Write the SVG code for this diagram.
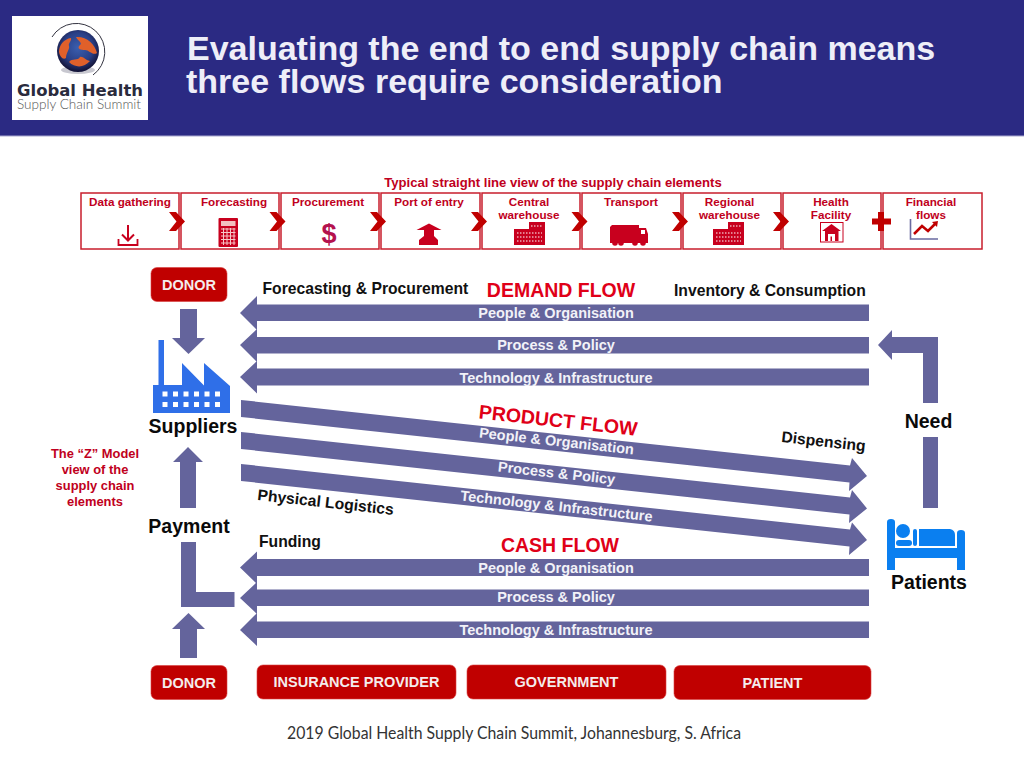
<svg xmlns="http://www.w3.org/2000/svg" width="1024" height="768" viewBox="0 0 1024 768">
<defs>
<radialGradient id="globe" cx="50%" cy="42%" r="55%"><stop offset="0" stop-color="#3a5fb0"/><stop offset=".65" stop-color="#2a3f86"/><stop offset="1" stop-color="#15163c"/></radialGradient>
</defs>
<style>
text{font-family:"Liberation Sans",Arial,sans-serif;font-weight:700}
.arrow{fill:#64649c}
.box{fill:#fff;stroke:#c81e2c;stroke-width:1.5}
.chev{fill:#c00000}
.el{font-size:11.700px;fill:#c00020;text-anchor:middle}
.ic{fill:#c8001e}
.btn{fill:#c00000;stroke:#d84040;stroke-width:.6}
.btxt{font-size:14.500px;fill:#f4ecec;text-anchor:middle}
.lb{font-size:15.700px;fill:#111}
.big{font-size:19.500px;fill:#0a0a0a;text-anchor:middle}
.flow{font-size:19.500px;fill:#e00018;text-anchor:middle}
.wt{font-size:14.500px;fill:#f2f2f8;text-anchor:middle}
.win{fill:#fff}
.fac{fill:#2f6fe8}
.bed{fill:#0a7ff0}
</style>
<rect width="1024" height="768" fill="#fff"/>
<g id="header">
<rect width="1024" height="136" fill="#2b2a83"/>
<rect y="135.500" width="1024" height="1" fill="#a9a8d0"/>
<text x="187" y="60" font-size="34" fill="#eeeef8">Evaluating the end to end supply chain means</text>
<text x="186" y="93" font-size="34" fill="#eeeef8">three flows require consideration</text>
</g>
<g id="logo">
<rect x="12" y="16" width="136" height="104" fill="#fff"/>
<path d="M52 37A28.500 28.500 0 1 1 93 75" fill="none" stroke="#333340" stroke-width="1"/>
<ellipse cx="78" cy="70" rx="17" ry="4" fill="#c8c8d0"/>
<circle cx="78" cy="51" r="21" fill="url(#globe)"/>
<path d="M59 52C59 45 64 39 71 38C72 41 68 43 69 46C70 49 66 53 66 58C63 60 60 57 59 52ZM76 37C86 36 95 44 97 53C93 56 89 50 85 50C81 50 76 49 80 45C83 43 78 41 76 37ZM69 62C72 58 78 61 80 57C83 56 85 60 90 61C84 68 75 68 69 62Z" fill="#e0602a"/>
<text x="17" y="96" font-size="16.500" fill="#2a2b3d" textLength="126" lengthAdjust="spacingAndGlyphs" style="font-family:'DejaVu Sans',sans-serif">Global Health</text>
<text x="17" y="109" font-size="13" fill="#555" textLength="124" lengthAdjust="spacingAndGlyphs" style="font-family:Lato,sans-serif;font-weight:300">Supply Chain Summit</text>
</g>
<text x="553" y="187" font-size="13.100" fill="#c00020" text-anchor="middle">Typical straight line view of the supply chain elements</text>
<g id="chain-boxes">
<g id="el-data"><rect class="box" x="81" y="193" width="98" height="56"/><text class="el" x="130" y="206">Data gathering</text>
<path d="M128 225V240M122 234.500L128 240.500L134 234.500" fill="none" stroke="#c8001e" stroke-width="2"/><path d="M118.500 239V245H137.500V239" fill="none" stroke="#c8001e" stroke-width="1.800"/></g>
<g id="el-forecast"><rect class="box" x="181" y="193" width="98" height="56"/><text class="el" x="234" y="206">Forecasting</text>
<rect class="ic" x="218.500" y="218" width="19.500" height="29" rx="1"/><rect x="221" y="221" width="14.500" height="5" fill="#f2c0c0"/><path d="M221 229H235.500M221 232.500H235.500M221 236H235.500M221 239.500H235.500M221 243H235.500M223.500 228V245M227 228V245M230.500 228V245M234 228V245" stroke="#f6c8c8" stroke-width="1"/></g>
<g id="el-procure"><rect class="box" x="281" y="193" width="98" height="56"/><text class="el" x="328" y="206">Procurement</text>
<text x="329" y="243" font-size="27" fill="#b4124e" text-anchor="middle">$</text></g>
<g id="el-port"><rect class="box" x="381" y="193" width="99" height="56"/><text class="el" x="429" y="206">Port of entry</text>
<path class="ic" d="M416.500 230L429 223.500L441.500 230H434V236L438 240V245H419V240L424 236V230Z"/></g>
<g id="el-central"><rect class="box" x="482" y="193" width="98" height="56"/><text class="el" x="529" y="206">Central</text><text class="el" x="529" y="219">warehouse</text>
<path class="ic" d="M514 229H529V222H545V245H514Z"/><path d="M517 233H542M517 237H542M517 241H542M531 226H543" stroke="#fff" stroke-width="1" stroke-dasharray="1.500 1.500"/></g>
<g id="el-transport"><rect class="box" x="582" y="193" width="99" height="56"/><text class="el" x="631" y="206">Transport</text>
<path class="ic" d="M612 225H639V228H646L648 234V243H610V227Z"/><circle class="ic" cx="615" cy="243" r="2.800"/><circle class="ic" cx="621" cy="243" r="2.800"/><circle class="ic" cx="635" cy="243" r="2.800"/><circle class="ic" cx="643" cy="243" r="2.800"/><path d="M641 230H645V234H641Z" fill="#fff"/></g>
<g id="el-regional"><rect class="box" x="683" y="193" width="98" height="56"/><text class="el" x="729.500" y="206">Regional</text><text class="el" x="729.500" y="219">warehouse</text>
<path class="ic" d="M713 229H728V222H744V245H713Z"/><path d="M716 233H741M716 237H741M716 241H741M730 226H742" stroke="#fff" stroke-width="1" stroke-dasharray="1.500 1.500"/></g>
<g id="el-health"><rect class="box" x="783" y="193" width="98" height="56"/><text class="el" x="831" y="206">Health</text><text class="el" x="831" y="219">Facility</text>
<rect x="820.500" y="222.500" width="22.500" height="19.500" fill="#fff" stroke="#c8001e" stroke-width="1"/><path class="ic" d="M822 231L831.500 224L841 231H838.500V241H825V231Z"/><path d="M828 234H835V241H832V236.500H830.500V241H828Z" fill="#fff"/></g>
<g id="el-financial"><rect class="box" x="883" y="193" width="99" height="56"/><text class="el" x="931" y="206">Financial</text><text class="el" x="931" y="219">flows</text>
<path d="M910.500 219V239H938" fill="none" stroke="#6a6aa0" stroke-width="1.600"/><path d="M914 234L922 226L928 231L936 223" fill="none" stroke="#c00000" stroke-width="2.500"/><path d="M932 222L938 221L937 227Z" fill="#c00000"/></g>
</g>
<g id="chain-connectors">
<path id="chev1" class="chev" d="M169 212H176L185 221.500L176 231H169L176.500 221.500Z"/>
<path id="chev2" class="chev" d="M269.500 212H276.500L285.500 221.500L276.500 231H269.500L277 221.500Z"/>
<path id="chev3" class="chev" d="M370 212H377L386 221.500L377 231H370L377.500 221.500Z"/>
<path id="chev4" class="chev" d="M471 212H478L487 221.500L478 231H471L478.500 221.500Z"/>
<path id="chev5" class="chev" d="M571.500 212H578.500L587.500 221.500L578.500 231H571.500L579 221.500Z"/>
<path id="chev6" class="chev" d="M672 212H679L688 221.500L679 231H672L679.500 221.500Z"/>
<path id="chev7" class="chev" d="M773 212H780L789 221.500L780 231H773L780.500 221.500Z"/>
<path id="plus" class="chev" d="M878 212H884V218.500H891V224.500H884V231H878V224.500H872V218.500H878Z"/>
</g>
<g id="connectors">
<path class="arrow" d="M869 304.500H257V296L240 313L257 330L257 321H869Z"/>
<path class="arrow" d="M869 337H257V329L240 345L257 362V353.500H869Z"/>
<path class="arrow" d="M869 368.500H257V361L240 377L257 393.500V385.500H869Z"/>
<path class="arrow" d="M241 400L850 465.500L852 458L867 476L849 491L849.500 482.500L241 417Z"/>
<path class="arrow" d="M241 432L850 497.500L852 490L867 508.500L849 523L849.500 514.500L241 449Z"/>
<path class="arrow" d="M241 464L850 529.500L852 522.500L867 540L849 555L849.500 546.500L241 481Z"/>
<path class="arrow" d="M869 559H257V551.500L240 567.500L257 584V576H869Z"/>
<path class="arrow" d="M869 589.500H257V582L240 598L257 614V606H869Z"/>
<path class="arrow" d="M869 621.500H257V613L240 630L257 646V638H869Z"/>
<path class="arrow" d="M180 309H197V338H205L188.500 354L172 338H180Z"/>
<path class="arrow" d="M180 508V462H173L188 447L203 462H196V508Z"/>
<path class="arrow" d="M181 542H196V592H234.500V607H181Z"/>
<path class="arrow" d="M180 658V629H172L188.500 613L205 629H197V658Z"/>
<path class="arrow" d="M938 403H923V353H892V360L878 345L892 330V337H938Z"/>
<rect class="arrow" x="923" y="437" width="15" height="71"/>
</g>
<g id="donor-top"><rect class="btn" x="151" y="267.500" width="76" height="34" rx="6"/><text class="btxt" x="189" y="290">DONOR</text></g>
<g id="donor-bottom"><rect class="btn" x="151" y="665.500" width="76" height="34" rx="6"/><text class="btxt" x="189" y="688">DONOR</text></g>
<g id="insurance"><rect class="btn" x="257" y="665" width="199" height="34" rx="6"/><text class="btxt" x="356.500" y="687">INSURANCE PROVIDER</text></g>
<g id="government"><rect class="btn" x="467" y="665" width="199" height="34" rx="6"/><text class="btxt" x="566.500" y="687">GOVERNMENT</text></g>
<g id="patient"><rect class="btn" x="674" y="665.500" width="197" height="34" rx="6"/><text class="btxt" x="772.500" y="688">PATIENT</text></g>
<g id="suppliers">
<path class="fac" d="M158.500 340H164V385H182V363L204 385.500V363L230 386V413H153V385H158.500Z"/>
<g class="win"><rect x="162.500" y="391.500" width="5" height="5"/><rect x="173" y="391.500" width="5" height="5"/><rect x="183.500" y="391.500" width="5" height="5"/><rect x="194" y="391.500" width="5" height="5"/><rect x="204.500" y="391.500" width="5" height="5"/><rect x="215" y="391.500" width="5" height="5"/><rect x="162.500" y="402" width="5" height="5"/><rect x="173" y="402" width="5" height="5"/><rect x="183.500" y="402" width="5" height="5"/><rect x="194" y="402" width="5" height="5"/><rect x="204.500" y="402" width="5" height="5"/><rect x="215" y="402" width="5" height="5"/></g>
<text class="big" x="193" y="433">Suppliers</text>
</g>
<g id="patients">
<path class="bed" d="M887 522Q887 519 891 519Q895 519 895 522V548H957V533Q957 530 961 530Q965 530 965 533V570H957V558H895V570H887Z"/>
<circle class="bed" cx="903" cy="531" r="7"/>
<rect class="bed" x="896" y="540" width="16" height="6" rx="3"/>
<rect class="bed" x="913" y="529" width="4" height="17" rx="2"/>
<path class="bed" d="M919 529H950Q955 530 955 535V546H919Z"/>
<text class="big" x="929" y="589">Patients</text>
</g>
<g id="labels">
<text class="lb" x="262.500" y="294">Forecasting &amp; Procurement</text>
<text class="lb" x="674" y="295.500">Inventory &amp; Consumption</text>
<text class="flow" x="561" y="297">DEMAND FLOW</text>
<text class="flow" x="560" y="552">CASH FLOW</text>
<text class="wt" x="556" y="318">People &amp; Organisation</text>
<text class="wt" x="556" y="350">Process &amp; Policy</text>
<text class="wt" x="556" y="382.500">Technology &amp; Infrastructure</text>
<text class="wt" x="556" y="573">People &amp; Organisation</text>
<text class="wt" x="556" y="602">Process &amp; Policy</text>
<text class="wt" x="556" y="635">Technology &amp; Infrastructure</text>
<text class="flow" transform="translate(557.500 427) rotate(6.300)">PRODUCT FLOW</text>
<text class="wt" transform="translate(556 446) rotate(6.300)">People &amp; Organisation</text>
<text class="wt" transform="translate(556 478) rotate(6.300)">Process &amp; Policy</text>
<text class="wt" transform="translate(556 511) rotate(6.300)">Technology &amp; Infrastructure</text>
<text class="lb" transform="translate(257 500) rotate(6.300)">Physical Logistics</text>
<text class="lb" transform="translate(781 442) rotate(6.300)">Dispensing</text>
<text class="lb" x="259" y="547">Funding</text>
<text class="big" x="928.500" y="428">Need</text>
<text class="big" x="189" y="533">Payment</text>
<g font-size="12.900" fill="#c00020" text-anchor="middle"><text x="95" y="458">The “Z” Model</text><text x="95" y="474">view of the</text><text x="95" y="490">supply chain</text><text x="95" y="506">elements</text></g>
<text x="287" y="739" font-size="16.500" fill="#333" textLength="454" lengthAdjust="spacingAndGlyphs" style="font-family:Lato,sans-serif;font-weight:400">2019 Global Health Supply Chain Summit, Johannesburg, S. Africa</text>
</g>
</svg>
